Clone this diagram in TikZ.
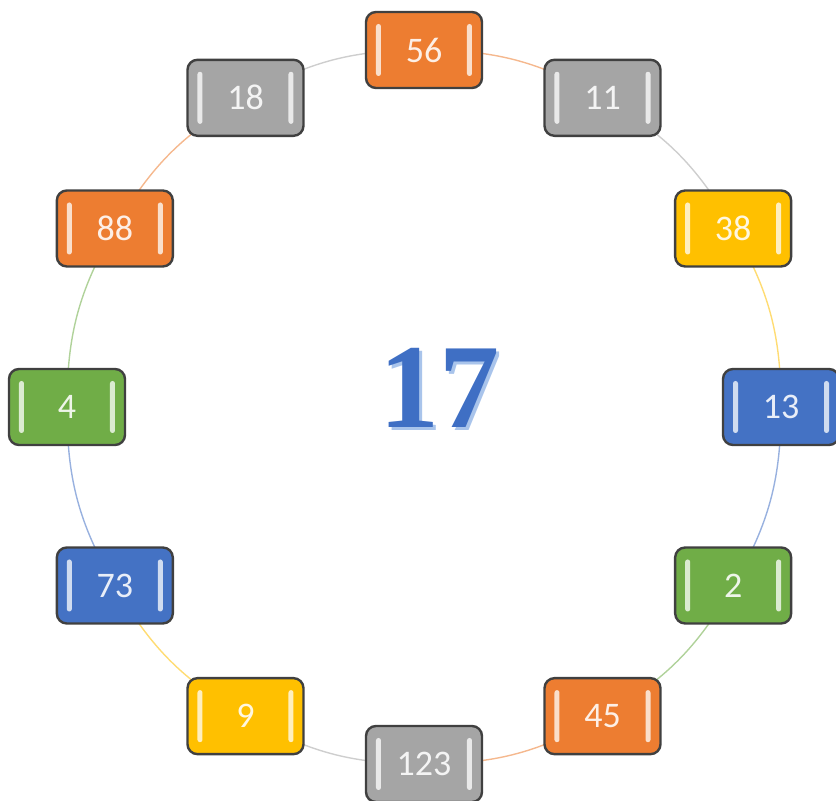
\documentclass[tikz,border=0pt]{standalone}
\usepackage{fontspec}
\setmainfont{Carlito}
\newfontfamily\sumfont{Liberation Serif}
\definecolor{BeadOrange}{HTML}{ED7D31}
\definecolor{BeadGray}{HTML}{A5A5A5}
\definecolor{BeadYellow}{HTML}{FFC000}
\definecolor{BeadBlue}{HTML}{4472C4}
\definecolor{BeadGreen}{HTML}{70AD47}
\definecolor{SumBlue}{HTML}{3F6FC4}
\definecolor{SumShadow}{HTML}{A9C4EB}
\usepackage{tikz}
\usetikzlibrary{backgrounds}

\begin{document}
\begin{tikzpicture}[x=0.5pt, y=0.5pt,
    bead/.style={draw=black!75, line width=1.2pt, rounded corners=5pt,
                 fill=#1, text=#1!12!white, minimum width=58pt,
                 minimum height=38pt, inner sep=0pt,
                 font=\fontsize{18}{20}\selectfont,
                 path picture={
                   \fill[#1!25!white, rounded corners=1.2pt]
                     ([xshift=5pt,yshift=6pt]path picture bounding box.south west)
                     rectangle ([xshift=7.5pt,yshift=-6pt]path picture bounding box.north west);
                   \fill[#1!25!white, rounded corners=1.2pt]
                     ([xshift=-5pt,yshift=6pt]path picture bounding box.south east)
                     rectangle ([xshift=-7.5pt,yshift=-6pt]path picture bounding box.north east);}},
    ring/.style={line width=0.7pt, #1!55!white}]
  \useasboundingbox (-424,-394) rectangle (412,407);

  % beads, clockwise from the top
  \foreach \val/\shade [count=\i] in {56/BeadOrange, 11/BeadGray, 38/BeadYellow,
      13/BeadBlue, 2/BeadGreen, 45/BeadOrange, 123/BeadGray, 9/BeadYellow,
      73/BeadBlue, 4/BeadGreen, 88/BeadOrange, 18/BeadGray}
    \node[bead=\shade] (b\i) at ({120-30*\i}:178.5pt) {\val};

  % ring between neighbours, behind the beads
  \begin{scope}[on background layer]
    \foreach \shade [count=\i] in {BeadOrange, BeadGray, BeadYellow, BeadBlue,
        BeadGreen, BeadOrange, BeadGray, BeadYellow, BeadBlue, BeadGreen,
        BeadOrange, BeadGray} {
      \pgfmathtruncatemacro{\j}{mod(\i,12)+1}
      \draw[ring=\shade] (b\i.center) to[bend left=15] (b\j.center);
    }
  \end{scope}

  % the sum in the middle
  \node[text=SumShadow, font=\fontsize{60}{60}\selectfont\sumfont\bfseries]
    (sumshadow) at (19,16) {17};
  \node[text=SumBlue, font=\fontsize{60}{60}\selectfont\sumfont\bfseries]
    (sum) at (16,19) {17};
\end{tikzpicture}
\end{document}
